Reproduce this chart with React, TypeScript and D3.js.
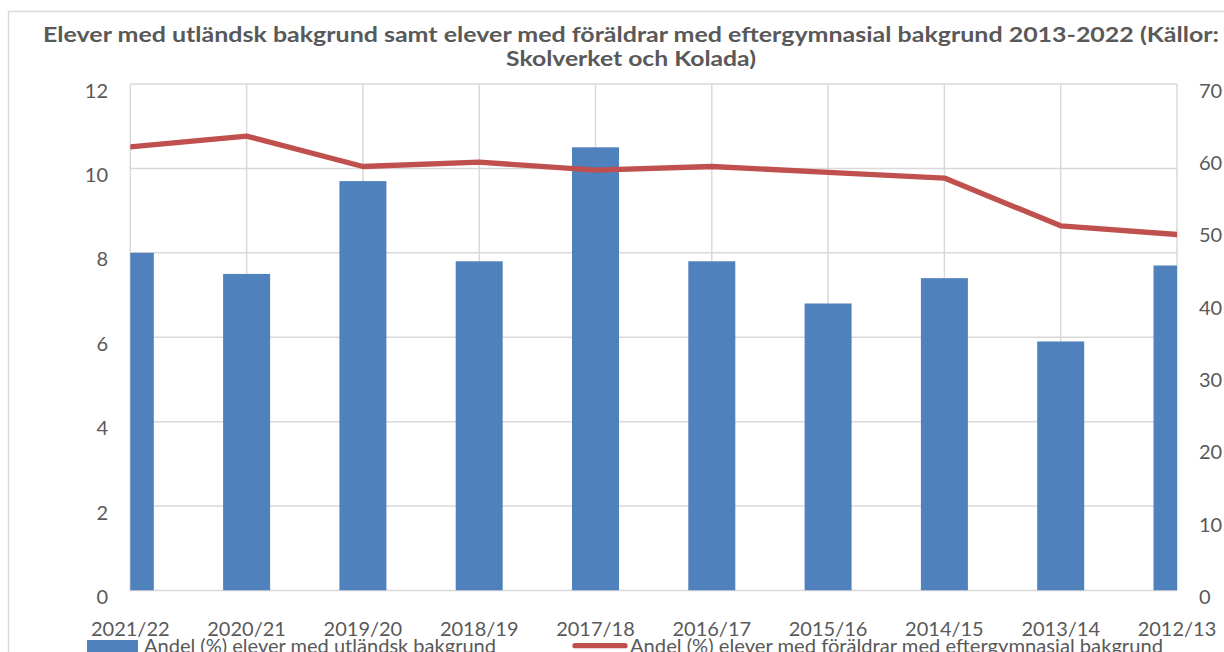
import React from "react";
import * as d3 from "d3";

const categories = ["2021/22", "2020/21", "2019/20", "2018/19", "2017/18", "2016/17", "2015/16", "2014/15", "2013/14", "2012/13"];
const foreignBackground = [8.0, 7.5, 9.7, 7.8, 10.5, 7.8, 6.8, 7.4, 5.9, 7.7];
const parentsPostSecondary = [61.3, 62.8, 58.6, 59.2, 58.1, 58.6, 57.8, 57.0, 50.4, 49.2];
const leftTicks = [0, 2, 4, 6, 8, 10, 12];
const rightTicks = [0, 10, 20, 30, 40, 50, 60, 70];
const titleLines = [
  "Elever med utländsk bakgrund samt elever med föräldrar med eftergymnasial bakgrund 2013-2022 (Källor:",
  "Skolverket och Kolada)",
];
const legendLabels = [
  "Andel (%) elever med utländsk bakgrund",
  "Andel (%) elever med föräldrar med eftergymnasial bakgrund",
];

const W = 1224;
const H = 652;
const plot = { left: 130.3, right: 1177, top: 84, bottom: 590.5 };
const font = "Lato, 'Open Sans', sans-serif";
const textColor = "#595959";
const gridColor = "#D9D9D9";
const barColor = "#4F81BD";
const lineColor = "#C0504D";

export default function App() {
  const x = d3.scalePoint<string>().domain(categories).range([plot.left, plot.right]);
  const yL = d3.scaleLinear().domain([0, 12]).range([plot.bottom, plot.top]);
  const yR = d3.scaleLinear().domain([0, 70]).range([plot.bottom, plot.top]);
  const barW = 47;

  const line = d3
    .line<number>()
    .x((_, i) => x(categories[i]) as number)
    .y((d) => yR(d));

  return (
    <svg
      width={W}
      height={H}
      viewBox={`0 0 ${W} ${H}`}
      style={{ position: "fixed", left: 0, top: 0, background: "#fff" }}
      fontFamily={font}
    >
      <rect x={0} y={0} width={W} height={H} fill="#fff" />
      <rect x={8.5} y={11.5} width={W + 20} height={H + 20} fill="none" stroke={gridColor} strokeWidth={1.5} />

      {/* title */}
      <text
        x={631}
        y={41.7}
        textAnchor="middle"
        fontWeight="bold"
        fontSize={21}
        fill={textColor}
        textLength={1176}
        lengthAdjust="spacingAndGlyphs"
      >
        {titleLines[0]}
      </text>
      <text
        x={631}
        y={65.7}
        textAnchor="middle"
        fontWeight="bold"
        fontSize={21}
        fill={textColor}
        textLength={250}
        lengthAdjust="spacingAndGlyphs"
      >
        {titleLines[1]}
      </text>

      <defs>
        <clipPath id="plotClip">
          <rect x={plot.left} y={plot.top - 10} width={plot.right - plot.left} height={plot.bottom - plot.top + 10} />
        </clipPath>
      </defs>

      {/* horizontal gridlines */}
      {leftTicks.map((t) => (
        <line key={"h" + t} x1={plot.left} x2={plot.right} y1={yL(t)} y2={yL(t)} stroke={gridColor} strokeWidth={1.5} />
      ))}
      {/* vertical gridlines */}
      {categories.map((c) => (
        <line key={"v" + c} x1={x(c)} x2={x(c)} y1={plot.top} y2={plot.bottom} stroke={gridColor} strokeWidth={1.5} />
      ))}

      {/* bars */}
      <g clipPath="url(#plotClip)">
        {foreignBackground.map((v, i) => (
          <rect
            key={"b" + i}
            x={(x(categories[i]) as number) - barW / 2}
            y={yL(v)}
            width={barW}
            height={yL(0) - yL(v)}
            fill={barColor}
          />
        ))}
        <path d={line(parentsPostSecondary) || ""} fill="none" stroke={lineColor} strokeWidth={5.3} strokeLinejoin="round" strokeLinecap="round" />
      </g>

      {/* left axis labels */}
      {leftTicks.map((t) => (
        <text key={"l" + t} x={108} y={yL(t) + 13.5} textAnchor="end" fontSize={20} fill={textColor}>
          {t}
        </text>
      ))}
      {/* right axis labels */}
      {rightTicks.map((t) => (
        <text key={"r" + t} x={1199} y={yR(t) + 13.5} textAnchor="start" fontSize={20} fill={textColor}>
          {t}
        </text>
      ))}
      {/* x labels */}
      {categories.map((c) => (
        <text key={"x" + c} x={x(c)} y={636} textAnchor="middle" fontSize={20} fill={textColor}>
          {c}
        </text>
      ))}

      {/* legend */}
      <rect x={87} y={640} width={51} height={20} fill={barColor} />
      <text x={144} y={652.5} fontSize={20} fill={textColor} textLength={352} lengthAdjust="spacingAndGlyphs">
        {legendLabels[0]}
      </text>
      <line x1={575} x2={625} y1={645.7} y2={645.7} stroke={lineColor} strokeWidth={5.3} strokeLinecap="round" />
      <text x={630} y={652.5} fontSize={20} fill={textColor} textLength={533} lengthAdjust="spacingAndGlyphs">
        {legendLabels[1]}
      </text>
    </svg>
  );
}
